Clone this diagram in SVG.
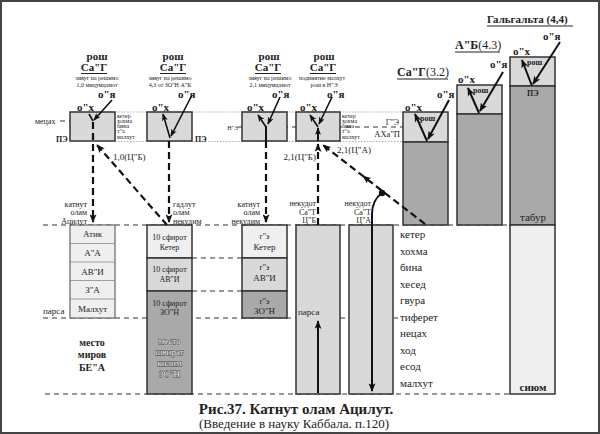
<svg xmlns="http://www.w3.org/2000/svg" width="600" height="434" viewBox="0 0 600 434" font-family="'Liberation Serif','Times New Roman','DejaVu Serif',serif">
<defs>
<style>
text{font-family:"Liberation Serif","Times New Roman","DejaVu Serif",serif;fill:#222}
.b{font-weight:bold}
.s6{font-size:6px}
.s8{font-size:8px}
.s9{font-size:9px}
.s10{font-size:10px}
.s11{font-size:11px}
.s12{font-size:12px}
.m{text-anchor:middle}
.e{text-anchor:end}
.box{stroke:#333;stroke-width:1.5}
.l1{fill:#efefef}
.l2{fill:#d9d9d9}
.l3{fill:#a9a9a9}
.dash{stroke:#333;stroke-width:1.2;stroke-dasharray:5,4;fill:none}
.dot{stroke:#999;stroke-width:0.8;stroke-dasharray:1.5,1.5;fill:none}
.arr{stroke:#111;stroke-width:2;fill:none}
.thin{stroke:#111;stroke-width:1.6;fill:none}
.darr{stroke:#111;stroke-width:2.2;stroke-dasharray:7,4;fill:none}
.sep{stroke:#888;stroke-width:0.8}
.ul{stroke:#222;stroke-width:1}
.wt{fill:#fff;stroke:#3a3a3a;stroke-width:0.9;paint-order:stroke;stroke-linejoin:round}
</style>
<marker id="ah" viewBox="0 0 10 8" refX="9" refY="4" markerWidth="9" markerHeight="7" orient="auto" markerUnits="userSpaceOnUse"><path d="M0,0 L10,4 L0,8 L2.5,4 z" fill="#111"/></marker>
<marker id="ahs" viewBox="0 0 10 8" refX="9" refY="4" markerWidth="8" markerHeight="6" orient="auto" markerUnits="userSpaceOnUse"><path d="M0,0 L10,4 L0,8 L2.5,4 z" fill="#111"/></marker>
</defs>
<rect x="1" y="1" width="598" height="432" fill="#fff" stroke="#444" stroke-width="2"/>

<g id="levels">
<line class="dot" x1="115" y1="112" x2="403" y2="112"/>
<line class="dot" x1="115" y1="141.5" x2="403" y2="141.5"/>
<line class="dash" x1="60" y1="121" x2="115" y2="121" stroke-width="1"/>
<line class="dash" x1="238" y1="127" x2="403" y2="127" stroke-width="1"/>
<line class="dash" x1="43" y1="225" x2="510" y2="225"/>
<line class="dash" x1="192" y1="258" x2="242" y2="258"/>
<line class="dash" x1="192" y1="291" x2="242" y2="291"/>
<line class="dash" x1="43" y1="318" x2="398" y2="318"/>
<line class="dash" x1="45" y1="394" x2="510" y2="394"/>
</g>

<g id="rosh1">
<rect class="box l2" x="70" y="112" width="45" height="29"/>
<text class="b s11 m" x="97" y="60">рош</text>
<text class="b s11 m" x="94" y="71">Са"Г</text>
<line class="ul" x1="81" y1="73.5" x2="107" y2="73.5"/>
<text class="s6 m" x="97" y="80">зивуг на решимо</text>
<text class="s6 m" x="97" y="87">1,0 мицумцамот</text>
<text class="b s11" x="98" y="98">о"я</text>
<text class="b s11" x="77" y="111">о"х</text>
<text class="s8" x="35" y="124">мецах</text>
<text class="b s8" x="56" y="142">ПЭ</text>
<text class="s6" x="117" y="117.5">кетер</text>
<text class="s6" x="117" y="122.5">хохма</text>
<text class="s6" x="117" y="127.5">бина</text>
<text class="s6" x="117" y="132.5">т"а</text>
<text class="s6" x="117" y="139">малхут</text>
</g>

<g id="rosh2">
<rect class="box l2" x="147" y="112" width="45" height="29"/>
<text class="b s11 m" x="173" y="60">рош</text>
<text class="b s11 m" x="173" y="71">Са"Г</text>
<line class="ul" x1="160" y1="73.5" x2="186" y2="73.5"/>
<text class="s6 m" x="170" y="80">зивуг на решимо</text>
<text class="s6 m" x="170" y="87">4,3 от ЗО"Н А"К</text>
<text class="b s11" x="178" y="98">о"я</text>
<text class="b s11" x="152" y="111">о"х</text>
<text class="b s8" x="195" y="142">ПЭ</text>
</g>

<g id="rosh3">
<rect class="box l2" x="242" y="112" width="45" height="29"/>
<text class="b s11 m" x="269" y="60">рош</text>
<text class="b s11 m" x="268" y="71">Са"Г</text>
<line class="ul" x1="255" y1="73.5" x2="281" y2="73.5"/>
<text class="s6 m" x="270" y="80">зивуг на решимо</text>
<text class="s6 m" x="270" y="87">2,1 мицумцамот</text>
<text class="b s11" x="272" y="98">о"я</text>
<text class="b s11" x="247" y="111">о"х</text>
<text class="s6 e" x="238" y="129.5">Н"Э</text>
</g>

<g id="rosh4">
<rect class="box l2" x="296" y="112" width="44" height="29"/>
<text class="b s11 m" x="324" y="60">рош</text>
<text class="b s11 m" x="323" y="71">Са"Г</text>
<line class="ul" x1="310" y1="73.5" x2="336" y2="73.5"/>
<text class="s6 m" x="322" y="80">подниятие малхут</text>
<text class="s6 m" x="324" y="87">рош в Н"Э</text>
<text class="b s11" x="327" y="98">о"я</text>
<text class="b s11" x="300" y="111">о"х</text>
<text class="s6" x="342" y="117.5">кетер</text>
<text class="s6" x="342" y="122.5">хохма</text>
<text class="s6" x="342" y="127.5">бина</text>
<text class="s6" x="342" y="132.5">т"а</text>
<text class="s6" x="342" y="139">малхут</text>
<text class="s8 e" x="399" y="125">Г"Э</text>
<text class="e" x="400" y="137" font-size="8.5">АХа"П</text>
</g>

<g id="sag32">
<rect class="box l2" x="403" y="112" width="45" height="30"/>
<rect class="box l3" x="403" y="142" width="45" height="83"/>
<text class="b s12" x="397" y="76">Са"Г<tspan font-weight="normal">(3.2)</tspan></text>
<line class="ul" x1="397" y1="79" x2="448" y2="79"/>
<text class="b s11" x="437" y="98">о"я</text>
<text class="b s11" x="405" y="111">о"х</text>
<text class="b s8" x="420" y="121">рош</text>
</g>

<g id="ab43">
<rect class="box l2" x="457" y="85" width="45" height="29"/>
<rect class="box l3" x="457" y="114" width="45" height="111"/>
<text class="b s12" x="455" y="49">А"Б<tspan font-weight="normal">(4.3)</tspan></text>
<line class="ul" x1="455" y1="52" x2="500" y2="52"/>
<text class="b s11" x="490" y="68">о"я</text>
<text class="b s11" x="458" y="83">о"х</text>
<text class="b s8" x="473" y="93">рош</text>
</g>

<g id="galgalta">
<rect class="box l2" x="510" y="57" width="45" height="29"/>
<rect class="box l3" x="510" y="86" width="45" height="139"/>
<rect class="box l1" x="510" y="225" width="45" height="169"/>
<text class="b s11" x="487" y="23">Гальгальта (4,4)</text>
<line class="ul" x1="487" y1="26" x2="573" y2="26"/>
<text class="b s11" x="543" y="40">о"я</text>
<text class="b s11" x="513" y="55">о"х</text>
<text class="b s8" x="527" y="65">рош</text>
<text class="b s8" x="527" y="96">ПЭ</text>
<text class="s11 m" x="533" y="221">табур</text>
<text class="b s11 m" x="533" y="391">сиюм</text>
</g>

<g id="katnut-atzilut">
<rect class="l1" x="70" y="225" width="45" height="93" stroke="#666" stroke-width="1.2"/>
<line class="sep" x1="70" y1="243.5" x2="115" y2="243.5"/>
<line class="sep" x1="70" y1="262" x2="115" y2="262"/>
<line class="sep" x1="70" y1="280.5" x2="115" y2="280.5"/>
<line class="sep" x1="70" y1="299" x2="115" y2="299"/>
<text class="s9 m" x="92.5" y="237">Атик</text>
<text class="s9 m" x="92.5" y="256">А"А</text>
<text class="s9 m" x="92.5" y="274.5">АВ"И</text>
<text class="s9 m" x="92.5" y="293">З"А</text>
<text class="s9 m" x="92.5" y="312">Малхут</text>
<text class="s8 e" x="87" y="206.5">катнут</text>
<text class="s8 e" x="87" y="215">олам</text>
<text class="s8 e" x="87" y="223.5">Ацилут</text>
<text class="s9" x="43" y="314">парса</text>
<text class="b s10 m" x="92" y="346">место</text>
<text class="b s10 m" x="92" y="358">миров</text>
<text class="b s10 m" x="92" y="371">БЕ"А</text>
</g>

<g id="gadlut-nekudim">
<rect class="box l1" x="147" y="225" width="45" height="33"/>
<rect class="box l2" x="147" y="258" width="45" height="33"/>
<rect class="box l3" x="147" y="291" width="45" height="103"/>
<text class="s8 m" x="169.5" y="240">10 сфирот</text>
<text class="s8 m" x="169.5" y="250">Кетер</text>
<text class="s8 m" x="169.5" y="272">10 сфирот</text>
<text class="s8 m" x="169.5" y="282">АВ"И</text>
<text class="s8 m" x="169.5" y="306">10 сфирот</text>
<text class="s8 m" x="169.5" y="315">ЗО"Н</text>
<text class="s9 m wt" x="169.5" y="344">место</text>
<text class="s9 m wt" x="169.5" y="355">швират</text>
<text class="s9 m wt" x="169.5" y="366">килим</text>
<text class="s9 m wt" x="169.5" y="377">ЗО"Н</text>
<text class="s8" x="173" y="206.5">гадлут</text>
<text class="s8" x="173" y="215">олам</text>
<text class="s8" x="173" y="223.5">некудим</text>
</g>

<g id="katnut-nekudim">
<rect class="box l1" x="242" y="225" width="45" height="33"/>
<rect class="box l2" x="242" y="258" width="45" height="33"/>
<rect class="box l3" x="242" y="291" width="45" height="27"/>
<text class="s8 m" x="264.5" y="239">г"э</text>
<text class="s9 m" x="264.5" y="250">Кетер</text>
<text class="s8 m" x="264.5" y="270">г"э</text>
<text class="s9 m" x="264.5" y="281">АВ"И</text>
<text class="s8 m" x="264.5" y="304">г"э</text>
<text class="s9 m" x="264.5" y="314">ЗО"Н</text>
<text class="s8 e" x="260" y="206.5">катнут</text>
<text class="s8 e" x="260" y="215">олам</text>
<text class="s8 e" x="260" y="223.5">некудим</text>
</g>

<g id="nekudot-tsb">
<rect class="box l2" x="296" y="225" width="44" height="169"/>
<text class="s9" x="298" y="315">парса</text>
<text class="s8 e" x="316" y="206">некудот</text>
<text class="s8 e" x="316" y="214.5">Са"Т</text>
<text class="s8 e" x="316" y="223">Ц"Б</text>
</g>

<g id="nekudot-tsa">
<rect class="box l2" x="349" y="225" width="44" height="169"/>
<text class="s8 e" x="371" y="206">некудот</text>
<text class="s8 e" x="371" y="214.5">Са"Т</text>
<text class="s8 e" x="371" y="223">Ц"А</text>
</g>

<g id="sefirot">
<text class="s11" x="400" y="238">кетер</text>
<text class="s11" x="400" y="254.5">хохма</text>
<text class="s11" x="400" y="271">бина</text>
<text class="s11" x="400" y="287.5">хесед</text>
<text class="s11" x="400" y="304">гвура</text>
<text class="s11" x="400" y="320.5">тиферет</text>
<text class="s11" x="400" y="337">нецах</text>
<text class="s11" x="400" y="353.5">ход</text>
<text class="s11" x="400" y="370">есод</text>
<text class="s11" x="400" y="386.5">малхут</text>
</g>

<g id="connectors">
<line class="thin" x1="112" y1="100" x2="94" y2="120" marker-end="url(#ahs)"/>
<line class="thin" x1="93" y1="121" x2="89" y2="114"/>
<line class="darr" x1="93" y1="122" x2="93" y2="222" marker-end="url(#ah)"/>
<line class="thin" x1="192" y1="95" x2="171" y2="136" marker-end="url(#ahs)"/>
<line class="thin" x1="170" y1="138" x2="163" y2="114" marker-end="url(#ahs)"/>
<line class="darr" x1="169" y1="141" x2="169" y2="222" marker-end="url(#ah)"/>
<line class="thin" x1="280" y1="97" x2="268" y2="124" marker-end="url(#ahs)"/>
<line class="thin" x1="266" y1="127" x2="258" y2="115" marker-end="url(#ahs)"/>
<line class="arr" x1="266" y1="126" x2="266" y2="141"/>
<line class="darr" x1="266" y1="141" x2="266" y2="222" marker-end="url(#ah)"/>
<line class="thin" x1="332" y1="97" x2="319" y2="124" marker-end="url(#ahs)"/>
<line class="thin" x1="318" y1="127" x2="310" y2="115" marker-end="url(#ahs)"/>
<line class="arr" x1="318" y1="141" x2="318" y2="128" marker-end="url(#ahs)"/>
<line class="darr" x1="318" y1="225" x2="318" y2="144" marker-end="url(#ah)"/>
<line class="darr" x1="167" y1="225" x2="97" y2="145" marker-end="url(#ah)"/>
<path class="darr" d="M425,224 L363,176 L323,145" marker-mid="url(#ah)" marker-end="url(#ah)"/>
<circle cx="382" cy="193" r="3.2" fill="#111"/>
<path class="arr" d="M382,193 C375,198 372,204 372,214 L372,391" marker-end="url(#ah)"/>
<line class="arr" x1="318" y1="393" x2="318" y2="321" marker-end="url(#ah)"/>
<line class="arr" x1="449" y1="100" x2="428" y2="139" marker-end="url(#ah)"/>
<line class="arr" x1="427" y1="141" x2="415" y2="114" marker-end="url(#ah)"/>
<line class="arr" x1="503" y1="72" x2="480" y2="111" marker-end="url(#ah)"/>
<line class="arr" x1="479" y1="113" x2="468" y2="88" marker-end="url(#ah)"/>
<line class="arr" x1="560" y1="42" x2="533" y2="84" marker-end="url(#ah)"/>
<line class="arr" x1="532" y1="86" x2="522" y2="60" marker-end="url(#ah)"/>
<text class="s9" x="113" y="160">1,0(Ц"Б)</text>
<text class="s9 e" x="316" y="160">2,1(Ц"Б)</text>
<text class="s9" x="337" y="153">2,1(Ц"А)</text>
</g>

<g id="caption">
<text class="b m" x="296" y="414" font-size="15">Рис.37. Катнут олам Ацилут.</text>
<text class="m" x="294" y="428" font-size="13">(Введение в науку Каббала. п.120)</text>
</g>
</svg>
